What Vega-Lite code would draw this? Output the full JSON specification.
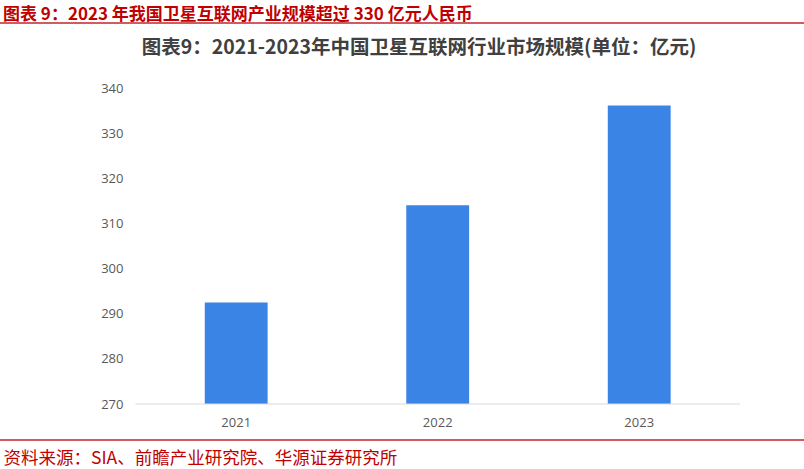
{
  "$schema": "https://vega.github.io/schema/vega-lite/v6.json",
  "width": 804,
  "height": 316,
  "autosize": {"type": "none"},
  "padding": {"left": 0, "right": 0, "top": 88, "bottom": 65},
  "background": "white",
  "config": {"view": {"stroke": null}},
  "title": {
    "text": "图表 9：2023 年我国卫星互联网产业规模超过 330 亿元人民币",
    "anchor": "start",
    "frame": "group",
    "dx": 3,
    "dy": 10,
    "font": "Noto Sans CJK SC",
    "fontSize": 17,
    "fontWeight": "bold",
    "color": "#c00000",
    "offset": 8
  },
  "layer": [
    {
      "data": {"values": [
        {"year": "2021", "value": 292.5},
        {"year": "2022", "value": 314.0},
        {"year": "2023", "value": 336.1}
      ]},
      "mark": {"type": "bar", "width": {"band": 0.312}, "color": "#3a84e6"},
      "encoding": {
        "x": {
          "field": "year", "type": "nominal",
          "scale": {"paddingInner": 0, "paddingOuter": 0.495, "align": 0.679},
          "axis": {
            "orient": "bottom", "domain": false, "ticks": false, "labelAngle": 0,
            "labelColor": "#595959", "labelFontSize": 13, "labelFont": "Open Sans", "labelPadding": 12,
            "title": "资料来源：SIA、前瞻产业研究院、华源证券研究所",
            "titleColor": "#c00000", "titleFont": "Noto Sans CJK SC", "titleFontSize": 17.5, "titleFontWeight": "normal",
            "titleAlign": "left", "titleBaseline": "middle", "titleAnchor": "start",
            "titleX": 3, "titleY": 54
          }
        },
        "y": {
          "field": "value", "type": "quantitative",
          "scale": {"domain": [270, 340], "zero": false, "nice": false},
          "axis": {
            "orient": "left", "offset": -135, "domain": false, "ticks": false, "grid": false,
            "values": [270, 280, 290, 300, 310, 320, 330, 340],
            "labelColor": "#595959", "labelFontSize": 13, "labelFont": "Open Sans", "labelPadding": 12,
            "title": "图表9：2021-2023年中国卫星互联网行业市场规模(单位：亿元)",
            "titleAngle": 0, "titleAlign": "center", "titleBaseline": "middle",
            "titleX": 283.5, "titleY": -41,
            "titleFont": "Noto Sans CJK SC", "titleFontSize": 19.5, "titleFontWeight": "bold", "titleColor": "#404040"
          }
        },
        "y2": {"datum": 270}
      }
    },
    {
      "data": {"values": [
        {"year": "2021"},
        {"year": "2022"},
        {"year": "2023"}
      ]},
      "mark": {"type": "rule", "color": "#d9d9d9", "strokeWidth": 1},
      "encoding": {
        "x": {"field": "year", "type": "nominal", "bandPosition": 0},
        "x2": {"field": "year", "bandPosition": 1},
        "y": {"datum": 270}
      }
    },
    {
      "data": {"values": [{}]},
      "mark": {"type": "rule", "color": "#c0262d", "strokeWidth": 1.5},
      "encoding": {"y": {"datum": 354.4}}
    },
    {
      "data": {"values": [{}]},
      "mark": {"type": "rule", "color": "#c0262d", "strokeWidth": 1.5},
      "encoding": {"y": {"datum": 262.0}}
    }
  ]
}
